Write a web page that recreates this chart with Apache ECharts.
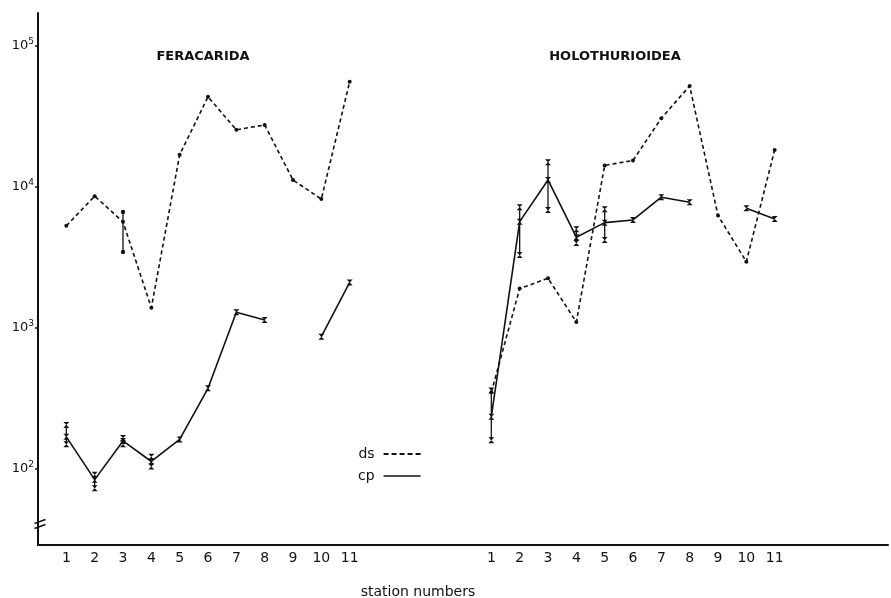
<!DOCTYPE html>
<html>
<head>
<meta charset="utf-8">
<script src="https://cdn.jsdelivr.net/npm/echarts@6/dist/echarts.min.js"></script>
<style>
  html, body { margin: 0; padding: 0; background: #fff; }
  #chart { width: 891px; height: 598px; }
</style>
</head>
<body>
<div id="chart"></div>
<script>
    // station numbers (same for both panels)
    var stations = [1, 2, 3, 4, 5, 6, 7, 8, 9, 10, 11];
    // Peracarida
    var feraDs = [5300, 8600, 5650, 1390, 16900, 43500, 25400, 27500, 11200, 8200, 55600];
    var feraCp = [169, 84, 158, 113, 162, 373, 1290, 1140, null, 867, 2100];
    // Holothurioidea
    var holoDs = [350, 1900, 2250, 1100, 14200, 15400, 30700, 52000, 6260, 2950, 18300];
    var holoCp = [235, 5670, 11200, 4400, 5580, 5830, 8450, 7790, null, 7060, 5930];
    // error bars: [station, low, high]
    var feraDsErr = [[3, 3460, 6650]];
    var feraCpErr = [[1, 150, 205], [2, 73, 91], [3, 150, 166], [4, 104, 122]];
    var holoCpErr = [[1, 160, 360], [2, 3290, 7180], [3, 6870, 14960], [4, 4000, 5000], [5, 4210, 6950]];

    var panelShift = 15;   // second panel starts 15 units right of the first
    var black = '#111';

    function buildLine(left, right) {
        var out = [];
        for (var i = 0; i < stations.length; i++) {
            out.push([stations[i], left[i] == null ? '-' : left[i]]);
        }
        out.push([13, '-']);
        for (var j = 0; j < stations.length; j++) {
            out.push([stations[j] + panelShift, right[j] == null ? '-' : right[j]]);
        }
        return out;
    }

    function buildErr(list, shift, kind) {
        return list.map(function (e) {
            return [e[0] + shift, e[1], e[2], kind];
        });
    }

    var hourglass = 'path://M0,0L10,0L0,10L10,10Z';
    var dashIcon = 'path://M0,0h5v2h-5zM8,0h5v2h-5zM16,0h5v2h-5zM24,0h5v2h-5zM32,0h5v2h-5z';
    var solidIcon = 'path://M0,0h37v1.6h-37z';

    var chart = echarts.init(document.getElementById('chart'));

    var option = {
        backgroundColor: '#fff',
        animation: false,
        textStyle: { fontFamily: 'DejaVu Sans', color: black },
        title: [{
            text: 'FERACARIDA',
            left: 198, top: 45, textAlign: 'center',
            textStyle: { fontSize: 13, fontWeight: 600, color: black, fontFamily: 'DejaVu Sans' }
        }, {
            text: 'HOLOTHURIOIDEA',
            left: 610, top: 45, textAlign: 'center',
            textStyle: { fontSize: 13, fontWeight: 600, color: black, fontFamily: 'DejaVu Sans' }
        }, {
            text: 'station numbers',
            left: 413, top: 580, textAlign: 'center',
            textStyle: { fontSize: 14, fontWeight: 'normal', color: black, fontFamily: 'DejaVu Sans' }
        }],
        legend: {
            orient: 'vertical',
            left: 353, top: 442,
            align: 'right',
            itemWidth: 37, itemHeight: 2,
            itemGap: 8,
            textStyle: { fontSize: 14, color: black, padding: [0, 4, 0, 0] },
            data: [
                { name: 'ds', icon: dashIcon },
                { name: 'cp', icon: solidIcon }
            ]
        },
        grid: { left: 38, right: 2, top: 13, bottom: 53 },
        xAxis: {
            type: 'value',
            min: 0, max: 30, interval: 1,
            splitLine: { show: false },
            axisTick: { show: false },
            axisLine: { lineStyle: { color: black, width: 2 } },
            axisLabel: {
                color: black, fontSize: 14, margin: 6,
                formatter: function (v) {
                    if (v >= 1 && v <= 11) return String(v);
                    if (v >= 1 + panelShift && v <= 11 + panelShift) return String(v - panelShift);
                    return '';
                }
            }
        },
        yAxis: {
            type: 'log',
            logBase: 10,
            min: 28.9, max: 171000,
            splitLine: { show: false },
            axisLine: { show: true, lineStyle: { color: black, width: 2 } },
            axisTick: { show: true, length: 3, lineStyle: { color: black, width: 1.5 } },
            axisLabel: {
                showMinLabel: false, showMaxLabel: false,
                margin: 4,
                formatter: function (v) {
                    var e = Math.log(v) / Math.LN10;
                    if (Math.abs(e - Math.round(e)) > 1e-6) return '';
                    return '{b|10}{s|' + Math.round(e) + '}';
                },
                rich: {
                    b: { fontSize: 13, color: black, fontFamily: 'DejaVu Sans' },
                    s: { fontSize: 9, color: black, fontFamily: 'DejaVu Sans', padding: [0, 0, 9, 0] }
                }
            }
        },
        series: [{
            name: 'ds',
            type: 'line',
            data: buildLine(feraDs, holoDs),
            connectNulls: false,
            symbol: 'circle', symbolSize: 4,
            itemStyle: { color: black },
            lineStyle: { color: black, width: 1.6, type: [4, 3] },
            z: 3
        }, {
            name: 'cp',
            type: 'line',
            data: buildLine(feraCp, holoCp),
            connectNulls: false,
            symbol: hourglass, symbolSize: 6,
            itemStyle: { color: black },
            lineStyle: { color: black, width: 1.6 },
            z: 3
        }, {
            name: 'errors',
            type: 'custom',
            z: 2,
            data: buildErr(feraDsErr, 0, 'ds')
                .concat(buildErr(feraCpErr, 0, 'cp'))
                .concat(buildErr(holoCpErr, panelShift, 'cp')),
            renderItem: function (params, api) {
                var lo = api.coord([api.value(0), api.value(1)]);
                var hi = api.coord([api.value(0), api.value(2)]);
                var kind = api.value(3);
                var ends = [];
                [lo, hi].forEach(function (p) {
                    if (kind === 'ds') {
                        ends.push({ type: 'circle', shape: { cx: p[0], cy: p[1], r: 2.2 }, style: { fill: black } });
                    } else {
                        ends.push({
                            type: 'polygon',
                            shape: { points: [[p[0] - 3, p[1] - 3], [p[0] + 3, p[1] - 3], [p[0] - 3, p[1] + 3], [p[0] + 3, p[1] + 3]] },
                            style: { fill: black }
                        });
                    }
                });
                return {
                    type: 'group',
                    children: [{
                        type: 'line',
                        shape: { x1: lo[0], y1: lo[1], x2: hi[0], y2: hi[1] },
                        style: { stroke: black, lineWidth: 1.3 }
                    }].concat(ends)
                };
            },
            encode: { x: 0, y: [1, 2] },
            silent: true
        }],
        graphic: [{
            // axis break marks
            type: 'group',
            left: 32, top: 517,
            children: [
                { type: 'rect', shape: { x: 4, y: 2, width: 4, height: 5 }, style: { fill: '#fff' } },
                { type: 'line', shape: { x1: 0, y1: 4, x2: 11, y2: 0 }, style: { stroke: black, lineWidth: 1.4 } },
                { type: 'line', shape: { x1: 0, y1: 9, x2: 11, y2: 5 }, style: { stroke: black, lineWidth: 1.4 } }
            ]
        }]
    };

    chart.setOption(option);
</script>
</body>
</html>
